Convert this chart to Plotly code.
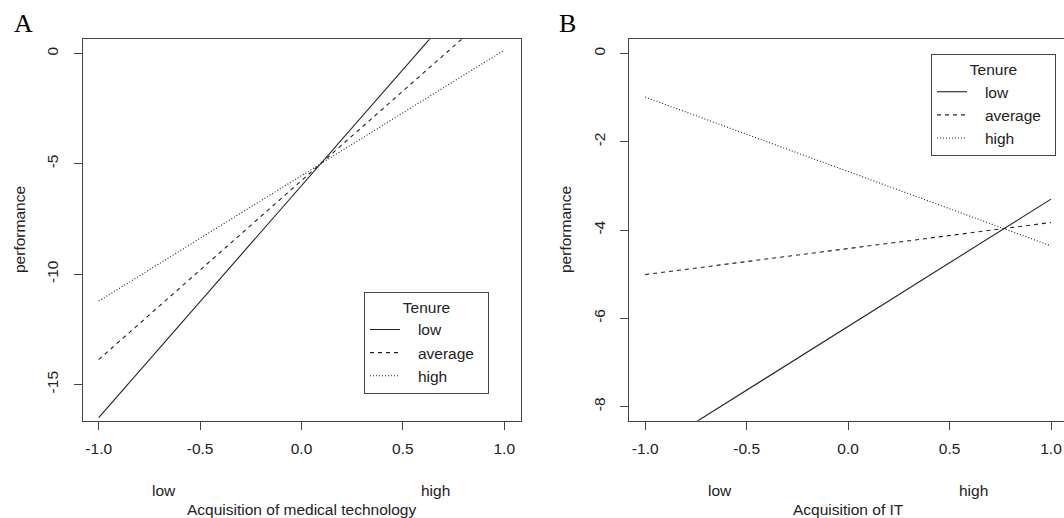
import plotly.graph_objects as go

# ---------------- data ----------------
x_levels = [-1.0, 1.0]
tenure_levels = ["low", "average", "high"]

# Panel A: Acquisition of medical technology
a_low = [-16.50, 4.52]
a_average = [-13.87, 2.35]
a_high = [-11.22, 0.15]

# Panel B: Acquisition of IT
b_low = [-9.07, -3.30]
b_average = [-5.01, -3.83]
b_high = [-0.99, -4.36]

x_tick_vals = [-1.0, -0.5, 0.0, 0.5, 1.0]
x_tick_text = ["-1.0", "-0.5", "0.0", "0.5", "1.0"]
a_y_tick_vals = [-15, -10, -5, 0]
a_y_tick_text = ["-15", "-10", "-5", "0"]
b_y_tick_vals = [-8, -6, -4, -2, 0]
b_y_tick_text = ["-8", "-6", "-4", "-2", "0"]

level_labels = ["low", "high"]

# ---------------- styling ----------------
W, H = 1064, 518
FONT = "Liberation Sans, Arial, Helvetica, sans-serif"
SERIF = "Liberation Serif, Times New Roman, serif"
FS = 15.5
INK = "#222222"
BOX = "#444444"
dash_styles = {"low": "solid", "average": "4px,4px", "high": "1px,2px"}
NB = "\u00a0"


def px_x(p):
    return p / W


def px_y(p):
    return 1 - p / H


def legend_name(name):
    return NB * 3 + name + NB * 2


fig = go.Figure()

panel_a = {"low": a_low, "average": a_average, "high": a_high}
panel_b = {"low": b_low, "average": b_average, "high": b_high}

for name in tenure_levels:
    fig.add_trace(go.Scatter(
        x=x_levels, y=panel_a[name], mode="lines", name=legend_name(name),
        line=dict(color=INK, width=1.1, dash=dash_styles[name]),
        xaxis="x", yaxis="y", legend="legend", showlegend=True,
        hoverinfo="skip"))
for name in tenure_levels:
    fig.add_trace(go.Scatter(
        x=x_levels, y=panel_b[name], mode="lines", name=legend_name(name),
        line=dict(color=INK, width=1.1, dash=dash_styles[name]),
        xaxis="x2", yaxis="y2", legend="legend2", showlegend=True,
        hoverinfo="skip"))

y_dom = [px_y(420.7), px_y(39.3)]

common_x = dict(
    tickmode="array", tickvals=x_tick_vals, ticktext=x_tick_text,
    ticks="outside", ticklen=8, tickwidth=1, tickcolor=BOX,
    showline=True, linecolor=BOX, linewidth=1,
    showgrid=False, zeroline=False, fixedrange=True,
    tickfont=dict(family=FONT, size=FS, color=INK),
    ticklabelstandoff=6,
)
common_y = dict(
    tickmode="array", ticks="outside", ticklen=8, tickwidth=1, tickcolor=BOX,
    showline=True, linecolor=BOX, linewidth=1,
    showgrid=False, zeroline=False, fixedrange=True,
    tickangle=-90,
    tickfont=dict(family=FONT, size=FS, color=INK),
    ticklabelstandoff=9,
)

legend_common = dict(
    bgcolor="white", bordercolor=BOX, borderwidth=1,
    font=dict(family=FONT, size=FS, color=INK),
    title=dict(text="Tenure", side="top center",
               font=dict(family=FONT, size=FS, color=INK)),
    itemwidth=30, tracegroupgap=0,
    xanchor="left", yanchor="top", itemclick=False, itemdoubleclick=False,
)

fig.update_layout(
    width=W, height=H,
    margin=dict(l=0, r=0, t=0, b=0),
    paper_bgcolor="white", plot_bgcolor="white",
    font=dict(family=FONT, size=FS, color=INK),
    xaxis=dict(domain=[px_x(82.5), px_x(520.5)], range=[-1.08, 1.08],
               anchor="y", mirror=True, **common_x),
    yaxis=dict(domain=y_dom, range=[-16.64, 0.64], anchor="x", mirror=True,
               tickvals=a_y_tick_vals, ticktext=a_y_tick_text, **common_y),
    xaxis2=dict(domain=[px_x(629), 1.0], range=[-1.08, 1.064],
                anchor="y2", mirror=True, **common_x),
    yaxis2=dict(domain=y_dom, range=[-8.32, 0.32], anchor="x2", mirror=False,
                tickvals=b_y_tick_vals, ticktext=b_y_tick_text, **common_y),
    legend=dict(x=px_x(364), y=px_y(291.7), **legend_common),
    legend2=dict(x=px_x(931), y=px_y(54), **legend_common),
    showlegend=True,
)

annotations = []
# panel letters
annotations.append(dict(text="A", x=px_x(23), y=px_y(23.5), xref="paper", yref="paper",
                        xanchor="center", yanchor="middle", showarrow=False,
                        font=dict(family=SERIF, size=26, color="black")))
annotations.append(dict(text="B", x=px_x(567.5), y=px_y(23.5), xref="paper", yref="paper",
                        xanchor="center", yanchor="middle", showarrow=False,
                        font=dict(family=SERIF, size=26, color="black")))
# y titles
for xp in (19, 565):
    annotations.append(dict(text="performance", x=px_x(xp), y=(y_dom[0] + y_dom[1]) / 2,
                            xref="paper", yref="paper", textangle=-90,
                            xanchor="center", yanchor="middle", showarrow=False,
                            font=dict(family=FONT, size=FS, color=INK)))
# low / high labels and x titles
a_level_pos = [-0.68, 0.66]
b_level_pos = [-0.63, 0.62]
for xr, pos, title in (("x", a_level_pos, "Acquisition of medical technology"),
                       ("x2", b_level_pos, "Acquisition of IT")):
    for lab, xv in zip(level_labels, pos):
        annotations.append(dict(text=lab, x=xv, y=px_y(490.5), xref=xr, yref="paper",
                                xanchor="center", yanchor="middle", showarrow=False,
                                font=dict(family=FONT, size=FS, color=INK)))
    annotations.append(dict(text=title, x=0.0, y=px_y(509), xref=xr, yref="paper",
                            xanchor="center", yanchor="middle", showarrow=False,
                            font=dict(family=FONT, size=FS, color=INK)))
fig.update_layout(annotations=annotations)

fig.write_html(
    "out.html",
    config={"displayModeBar": False, "staticPlot": True},
    post_script="document.body.style.margin='0px';document.body.style.padding='0px';"
                "document.body.style.overflow='hidden';",
)
